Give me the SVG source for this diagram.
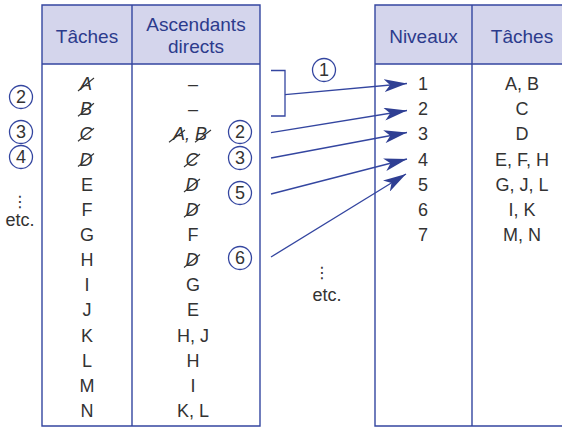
<svg xmlns="http://www.w3.org/2000/svg" width="562" height="427" viewBox="0 0 562 427">
<style>
.hdr{fill:#d4d5ec;stroke:none}
.ln{stroke:#3446a0;stroke-width:1.4;fill:none}
.ht{font-family:"Liberation Sans",Arial,sans-serif;font-size:19px;fill:#2c3b8c;text-anchor:middle}
.t{font-family:"Liberation Sans",Arial,sans-serif;font-size:18px;fill:#333;text-anchor:middle}
.it{font-style:italic}
.sl{stroke:#333;stroke-width:1.1}
.c{fill:#fff;stroke:#3446a0;stroke-width:1.3}
.cn{font-family:"Liberation Sans",Arial,sans-serif;font-size:18px;fill:#333;text-anchor:middle}
.dots{font-family:"DejaVu Sans","Liberation Sans",sans-serif;font-size:16px;fill:#333;text-anchor:middle}
.ar{stroke:#3446a0;stroke-width:1.3;fill:none}
</style>
<defs>
<marker id="ah" markerUnits="userSpaceOnUse" markerWidth="24" markerHeight="13" refX="23" refY="6.5" orient="auto">
<path d="M0,0 L23,6.5 L0,13 L6,6.5 Z" fill="#2f3f93"/>
</marker>
</defs>
<rect width="562" height="427" fill="#fff"/>

<g id="table-left">
<rect class="hdr" x="42" y="5" width="218" height="59"/>
<path class="ln" d="M42,5 H260 V426 H42 Z M132,5 V426 M42,64 H260"/>
<text class="ht" x="87" y="43">Tâches</text>
<text class="ht" x="196" y="31">Ascendants</text>
<text class="ht" x="196" y="53">directs</text>
</g>

<g id="col-taches">
<text class="t it" x="86" y="90">A</text><line class="sl" x1="78" y1="91" x2="94" y2="78"/>
<text class="t it" x="86" y="115.2">B</text><line class="sl" x1="78" y1="116.2" x2="94" y2="103.2"/>
<text class="t it" x="86" y="140.3">C</text><line class="sl" x1="78" y1="141.3" x2="94" y2="128.3"/>
<text class="t it" x="86" y="165.5">D</text><line class="sl" x1="78" y1="166.5" x2="94" y2="153.5"/>
<text class="t" x="87" y="190.6">E</text>
<text class="t" x="87" y="215.8">F</text>
<text class="t" x="87" y="240.9">G</text>
<text class="t" x="87" y="266.1">H</text>
<text class="t" x="87" y="291.2">I</text>
<text class="t" x="87" y="316.4">J</text>
<text class="t" x="87" y="341.5">K</text>
<text class="t" x="87" y="366.7">L</text>
<text class="t" x="87" y="391.8">M</text>
<text class="t" x="87" y="417">N</text>
</g>

<g id="col-ascendants">
<text class="t" x="193" y="90">–</text>
<text class="t" x="193" y="115.2">–</text>
<text class="t it" x="190" y="140.3">A, B</text>
<line class="sl" x1="169" y1="142.3" x2="185" y2="130"/>
<line class="sl" x1="195" y1="142.3" x2="211" y2="130"/>
<text class="t it" x="192" y="165.5">C</text><line class="sl" x1="184" y1="167" x2="200" y2="154"/>
<text class="t it" x="192" y="190.6">D</text><line class="sl" x1="184" y1="192" x2="200" y2="179"/>
<text class="t it" x="192" y="215.8">D</text><line class="sl" x1="184" y1="217.2" x2="200" y2="204.2"/>
<text class="t" x="193" y="240.9">F</text>
<text class="t it" x="192" y="266.1">D</text><line class="sl" x1="184" y1="267.5" x2="200" y2="254.5"/>
<text class="t" x="193" y="291.2">G</text>
<text class="t" x="193" y="316.4">E</text>
<text class="t" x="193" y="341.5">H, J</text>
<text class="t" x="193" y="366.7">H</text>
<text class="t" x="193" y="391.8">I</text>
<text class="t" x="193" y="417">K, L</text>
</g>

<g id="table-right">
<rect class="hdr" x="375" y="5" width="187" height="59"/>
<path class="ln" d="M563,5 H375 V426 H563 M472,5 V426 M375,64 H563"/>
<text class="ht" x="423.5" y="43">Niveaux</text>
<text class="ht" x="522" y="43">Tâches</text>
<text class="t" x="423" y="90">1</text><text class="t" x="522" y="90">A, B</text>
<text class="t" x="423" y="115.2">2</text><text class="t" x="522" y="115.2">C</text>
<text class="t" x="423" y="140.3">3</text><text class="t" x="522" y="140.3">D</text>
<text class="t" x="423" y="165.5">4</text><text class="t" x="522" y="165.5">E, F, H</text>
<text class="t" x="423" y="190.6">5</text><text class="t" x="522" y="190.6">G, J, L</text>
<text class="t" x="423" y="215.8">6</text><text class="t" x="522" y="215.8">I, K</text>
<text class="t" x="423" y="240.9">7</text><text class="t" x="522" y="240.9">M, N</text>
</g>

<g id="steps-left">
<circle class="c" cx="21" cy="97" r="11.5"/><text class="cn" x="21" y="103.3">2</text>
<circle class="c" cx="21" cy="132" r="11.5"/><text class="cn" x="21" y="138.3">3</text>
<circle class="c" cx="21" cy="157" r="11.5"/><text class="cn" x="21" y="163.3">4</text>
<text class="dots" x="20" y="207">⋮</text>
<text class="t" x="20" y="226">etc.</text>
</g>

<g id="steps-right">
<circle class="c" cx="324" cy="70" r="11.5"/><text class="cn" x="324" y="76.3">1</text>
<circle class="c" cx="240" cy="132" r="11.5"/><text class="cn" x="240" y="138.3">2</text>
<circle class="c" cx="240" cy="158" r="11.5"/><text class="cn" x="240" y="164.3">3</text>
<circle class="c" cx="240" cy="193" r="11.5"/><text class="cn" x="240" y="199.3">5</text>
<circle class="c" cx="240" cy="258" r="11.5"/><text class="cn" x="240" y="264.3">6</text>
<text class="dots" x="322" y="278">⋮</text>
<text class="t" x="327" y="301">etc.</text>
</g>

<g id="connectors">
<path class="ar" d="M271,70.5 H285 V116 H271"/>
<line class="ar" x1="285" y1="94.7" x2="407" y2="83.5" marker-end="url(#ah)"/>
<line class="ar" x1="271" y1="132.7" x2="407" y2="110.5" marker-end="url(#ah)"/>
<line class="ar" x1="271" y1="158" x2="407" y2="132.5" marker-end="url(#ah)"/>
<line class="ar" x1="271" y1="194" x2="407" y2="159" marker-end="url(#ah)"/>
<line class="ar" x1="271" y1="257" x2="406" y2="174" marker-end="url(#ah)"/>
</g>
</svg>
